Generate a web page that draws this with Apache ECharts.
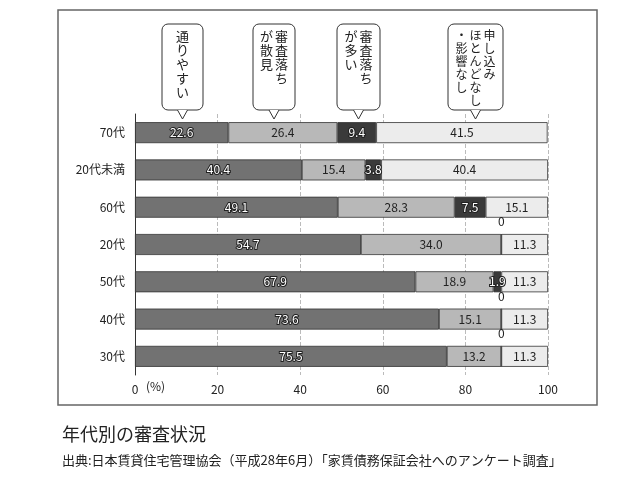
<!DOCTYPE html><html><head><meta charset="utf-8"><script src="https://cdn.jsdelivr.net/npm/echarts@6/dist/echarts.min.js"></script>
<style>html,body{margin:0;background:#fff}#c{width:642px;height:481px}</style></head><body><div id="c"></div><script>
const categories=['30代','40代','50代','20代','60代','20代未満','70代'];
const easy=[75.5,73.6,67.9,54.7,49.1,40.4,22.6];
const some=[13.2,15.1,18.9,34.0,28.3,15.4,26.4];
const many=[0,0,1.9,0,7.5,3.8,9.4];
const none=[11.3,11.3,11.3,11.3,15.1,40.4,41.5];
const names=['通りやすい','審査落ちが散見','審査落ちが多い','申し込みほとんどなし・影響なし'];
const F='"Noto Sans CJK JP"';
const chart=echarts.init(document.getElementById('c'));
function ser(name,data,color,txt,outline){return {name,type:'bar',stack:'a',data,barWidth:21,
itemStyle:{color,borderColor:'#333',borderWidth:0.8},
label:{show:true,color:txt,fontSize:12,fontFamily:F,textBorderColor:outline?'#222':'transparent',textBorderWidth:outline?2:0,
formatter:p=>p.value===0?'':p.value.toFixed(1)}};}
const s3=ser(names[2],many.map(v=>v===0?{value:0,label:{show:true,position:'top',formatter:'0',color:'#222',textBorderWidth:0,offset:[0,-1]}}:v),'#3a3a3a','#fff',true);
s3.label.formatter=p=>p.value===0?'0':p.value.toFixed(1);
function callout(x,w,cols,fs){const g=[{type:'rect',shape:{x:x,y:24,width:w,height:86,r:6},style:{fill:'#fff',stroke:'#333',lineWidth:1}},
{type:'polyline',shape:{points:[[x+w/2-5,110],[x+w/2,119],[x+w/2+5,110]]},style:{fill:'#fff',stroke:'#333',lineWidth:1},z:10}];
const n=cols.length,step=fs+2;cols.forEach((c,i)=>{g.push({type:'text',left:x+w/2+((n-1)/2-i)*step-fs/2,top:29,style:{text:c.split('').join('\n'),lineHeight:fs+1,fill:'#222',font:fs+'px '+F,align:'left'},z:11});});return g;}
chart.setOption({animation:false,
grid:{left:135,right:94,top:114,bottom:106},
xAxis:{type:'value',min:0,max:100,interval:20,axisLine:{show:false},axisTick:{show:false},
splitLine:{lineStyle:{type:'dashed',color:'#bbb'}},axisLabel:{color:'#222',fontSize:12,fontFamily:F,margin:8}},
yAxis:{type:'category',data:categories,axisLine:{lineStyle:{color:'#333'}},axisTick:{show:false},axisLabel:{color:'#222',fontSize:12,fontFamily:F,margin:10}},
series:[ser(names[0],easy,'#727272','#fff',true),ser(names[1],some,'#b8b8b8','#222',false),s3,ser(names[3],none,'#ececec','#222',false)],
graphic:[{type:'rect',shape:{x:58,y:10,width:539,height:395},style:{fill:'none',stroke:'#666',lineWidth:1.5},silent:true},
{type:'text',left:146,top:380,style:{text:'(%)',font:'12px '+F,fill:'#222'}},
...callout(162,41,['通りやすい'],13),
...callout(253,42,['審査落ち','が散見'],13),
...callout(337,43,['審査落ち','が多い'],13),
...callout(448,55,['申し込み','ほとんどなし','・影響なし'],12),
{type:'text',left:62,top:425,style:{text:'年代別の審査状況',font:'18px '+F,fill:'#222'}},
{type:'text',left:62,top:454,style:{text:'出典:日本賃貸住宅管理協会（平成28年6月）「家賃債務保証会社へのアンケート調査」',font:'13px '+F,fill:'#222'}}]});
</script></body></html>
